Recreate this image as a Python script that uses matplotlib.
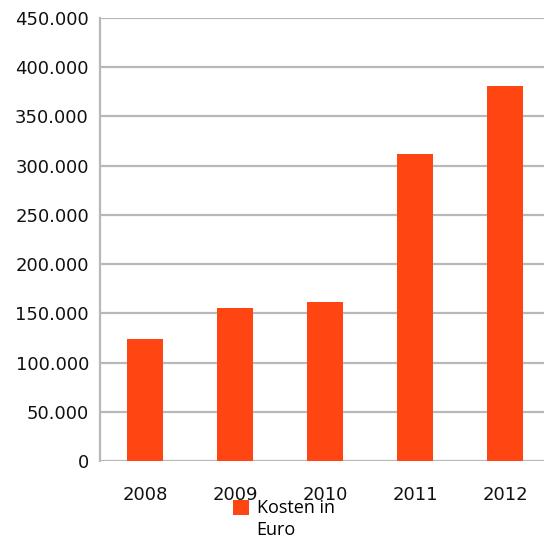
import matplotlib.pyplot as plt
from matplotlib.ticker import FuncFormatter

# yearly costs
years = ['2008', '2009', '2010', '2011', '2012']
kosten = [124000, 155600, 161700, 312100, 381200]
series_name = 'Kosten in\nEuro'

BAR_COLOR = '#ff4512'
GRID_COLOR = '#b8b8b8'


def thousands(v, pos):
    if v == 0:
        return '0'
    return f'{int(v):,}'.replace(',', '.')


def main():
    fig = plt.figure(figsize=(5.44, 5.40), dpi=100)
    ax = fig.add_axes([100 / 544, 79 / 540, 450 / 544, 443 / 540])

    x = range(len(years))
    ax.bar(x, kosten, width=0.41, color=BAR_COLOR, label=series_name, zorder=3)

    ax.set_xlim(-0.5, len(years) - 0.5)
    ax.set_ylim(0, 450000)
    ax.set_yticks(range(0, 450001, 50000))
    ax.yaxis.set_major_formatter(FuncFormatter(thousands))
    ax.set_xticks(list(x))
    ax.set_xticklabels(years)

    ax.grid(axis='y', color=GRID_COLOR, linewidth=1.6, zorder=0)
    ax.set_axisbelow(True)
    for side in ['top', 'right', 'bottom']:
        ax.spines[side].set_visible(False)
    ax.spines['left'].set_color(GRID_COLOR)
    ax.spines['left'].set_linewidth(1.6)

    ax.tick_params(axis='both', length=0, labelsize=13, colors='#111111')
    ax.tick_params(axis='y', pad=8)
    ax.tick_params(axis='x', pad=18)

    leg = fig.legend(loc='upper left', bbox_to_anchor=(226 / 544, 1 - 492 / 540),
                     frameon=False, handlelength=0.9, handleheight=0.9,
                     handletextpad=0.4, borderaxespad=0,
                     prop={'family': 'Open Sans', 'size': 13})
    leg.get_texts()[0].set_linespacing(1.3)
    # keep the colour square level with the first line of the label
    sq = leg.legend_handles[0]
    sq.set_y(sq.get_y() + 9)

    fig.savefig('out.png', dpi=100)


if __name__ == '__main__':
    main()
